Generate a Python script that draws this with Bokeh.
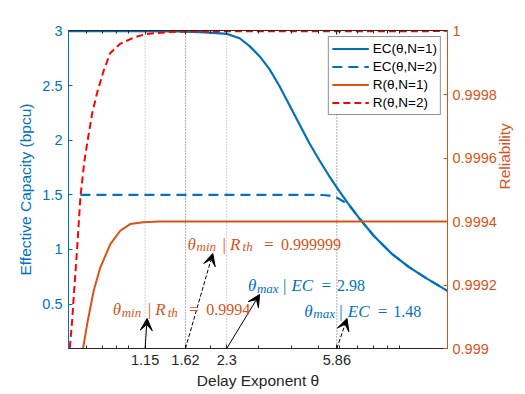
import math
from bokeh.plotting import figure
from bokeh.models import Range1d, LinearAxis, LogAxis, FixedTicker, Span, Arrow, VeeHead, Label
from bokeh.embed import file_html
from bokeh.resources import INLINE

# ---------------- data ----------------
theta_ec1 = [0.6, 1.0, 1.5, 1.83, 2.05, 2.3, 2.567, 2.793, 3.039, 3.307, 3.599, 3.916,
             4.261, 4.637, 5.046, 5.491, 5.975, 6.502, 7.075, 8.03, 9.35, 10.79, 12.46, 15.0]
ec1 = [3.0, 3.0, 2.998, 2.992, 2.985, 2.975, 2.935, 2.863, 2.771, 2.652, 2.497, 2.323,
       2.149, 1.975, 1.820, 1.673, 1.536, 1.408, 1.289, 1.124, 0.960, 0.841, 0.740, 0.621]

theta_ec2 = [0.664, 1.0, 2.0, 3.0, 4.0, 4.8, 5.2, 5.5, 5.86, 6.2, 6.502, 7.075, 8.03,
             9.35, 10.79, 12.46, 15.0]
ec2 = [1.5, 1.5, 1.5, 1.5, 1.5, 1.5, 1.499, 1.494, 1.475, 1.44, 1.408, 1.289, 1.124,
       0.960, 0.841, 0.740, 0.621]

theta_r1 = [0.679, 0.703, 0.743, 0.786, 0.856, 0.931, 1.013, 1.13, 1.3, 2.0, 15.0]
r1 = [0.999, 0.999077, 0.999182, 0.999255, 0.999329, 0.999371, 0.999392, 0.999398,
      0.9994, 0.9994, 0.9994]

theta_r2 = [0.6066, 0.618, 0.6286, 0.6458, 0.664, 0.6868, 0.7086, 0.733, 0.7647, 0.8085,
            0.8557, 0.9311, 1.0393, 1.16, 1.4205, 1.62, 15.0]
r2 = [0.999002, 0.999081, 0.999175, 0.999317, 0.999478, 0.999591, 0.999664, 0.999739,
      0.999805, 0.999875, 0.999931, 0.99996, 0.999979, 0.999991, 0.999997, 0.999999, 1.0]

x_ticks = [1.15, 1.62, 2.3, 5.86]
x_tick_labels = ["1.15", "1.62", "2.3", "5.86"]
x_minor_ticks = [0.7, 0.8, 0.9, 1, 2, 3, 4, 5, 6, 7, 8, 9, 10]
ec_ticks = [0.5, 1.0, 1.5, 2.0, 2.5, 3.0]
ec_tick_labels = ["0.5", "1", "1.5", "2", "2.5", "3"]
rel_ticks = [0.999, 0.9992, 0.9994, 0.9996, 0.9998, 1.0]
rel_tick_labels = ["0.999", "0.9992", "0.9994", "0.9996", "0.9998", "1"]

series_labels = ["EC(θ,N=1)", "EC(θ,N=2)", "R(θ,N=1)", "R(θ,N=2)"]

# annotation values
annot_values = ["0.9994", "0.999999", "2.98", "1.48"]

# ---------------- style ----------------
BLUE = "#0072BD"
ORANGE = "#D95319"
RED = "#FF0000"
DARK = "#262626"
SANS = "Liberation Sans"
SERIF = "Liberation Serif"

EC_MIN, EC_MAX = 0.093, 3.006
REL_MIN, REL_MAX = 0.999, 1.0000019

p = figure(width=524, height=392, x_axis_type="log",
           x_range=Range1d(0.6, 15.0), y_range=Range1d(EC_MIN, EC_MAX),
           output_backend="svg", toolbar_location=None,
           min_border_left=68, min_border_right=75, min_border_top=30, min_border_bottom=44)
p.xgrid.visible = False
p.ygrid.visible = False
p.outline_line_color = DARK
p.outline_line_width = 1
p.background_fill_color = "white"
p.border_fill_color = "white"
p.extra_y_ranges = {"rel": Range1d(REL_MIN, REL_MAX)}

# vertical dotted guide lines
for t, c in zip(x_ticks, ["#a0a0a0", "#606060", "#a0a0a0", "#606060"]):
    p.add_layout(Span(location=t, dimension="height", line_color=c,
                      line_dash="1 2", line_width=1, level="underlay"))

# curves
p.line(theta_ec1, ec1, line_color=BLUE, line_width=2.2, legend_label=series_labels[0])
p.line(theta_ec2, ec2, line_color=BLUE, line_width=2.2, line_dash="10 6",
       legend_label=series_labels[1])
p.line(theta_r1, r1, line_color=ORANGE, line_width=2, y_range_name="rel",
       legend_label=series_labels[2])
p.line(theta_r2, r2, line_color=RED, line_width=2, line_dash="7 4", y_range_name="rel",
       legend_label=series_labels[3])

# bottom axis
bottom = p.below[0]
bottom.ticker = FixedTicker(ticks=x_ticks, minor_ticks=x_minor_ticks)
bottom.major_label_overrides = dict(zip(x_ticks, x_tick_labels))
bottom.axis_label = "Delay Exponent θ"
bottom.axis_line_color = DARK
bottom.major_tick_line_color = DARK
bottom.minor_tick_line_color = DARK
bottom.major_tick_in = 4
bottom.major_tick_out = 0
bottom.minor_tick_in = 3
bottom.minor_tick_out = 0
bottom.major_label_standoff = 6
bottom.major_label_text_font = SANS
bottom.major_label_text_font_size = "14.5px"
bottom.major_label_text_color = DARK
bottom.axis_label_standoff = 4
bottom.axis_label_text_font = SANS
bottom.axis_label_text_font_size = "15.5px"
bottom.axis_label_text_font_style = "normal"
bottom.axis_label_text_color = DARK

# top axis (mirrored ticks only)
top = LogAxis(ticker=FixedTicker(ticks=x_ticks, minor_ticks=x_minor_ticks),
              major_label_overrides={t: "" for t in x_ticks},
              major_label_text_font_size="0px", major_label_standoff=0,
              axis_line_color=DARK, major_tick_line_color=DARK, minor_tick_line_color=DARK,
              major_tick_in=4, major_tick_out=0, minor_tick_in=3, minor_tick_out=0)
p.add_layout(top, "above")

# left axis
left = p.left[0]
left.ticker = FixedTicker(ticks=ec_ticks)
left.major_label_overrides = dict(zip(ec_ticks, ec_tick_labels))
left.axis_label = "Effective Capacity (bpcu)"

# right axis
right = LinearAxis(y_range_name="rel", ticker=FixedTicker(ticks=rel_ticks),
                   major_label_overrides=dict(zip(rel_ticks, rel_tick_labels)),
                   axis_label="Reliability")
p.add_layout(right, "right")

for ax, col in [(left, BLUE), (right, ORANGE)]:
    ax.axis_line_color = col
    ax.major_tick_line_color = col
    ax.minor_tick_line_color = None
    ax.major_tick_in = 4
    ax.major_tick_out = 0
    ax.minor_tick_in = 0
    ax.minor_tick_out = 0
    ax.major_label_standoff = 6 if ax is left else 5
    ax.major_label_text_font = SANS
    ax.major_label_text_font_size = "14.5px"
    ax.major_label_text_color = col
    ax.axis_label_standoff = 5
    ax.axis_label_text_font = SANS
    ax.axis_label_text_font_size = "15.5px"
    ax.axis_label_text_font_style = "normal"
    ax.axis_label_text_color = col

if "axis_label_orientation" in right.properties():
    right.axis_label_orientation = math.pi / 2

# legend
lg = p.legend[0]
lg.location = "top_right"
lg.margin = 6
lg.padding = 3
lg.spacing = 1
lg.label_height = 17
lg.glyph_height = 17
lg.glyph_width = 37
lg.label_standoff = 4
lg.label_text_font = SANS
lg.label_text_font_size = "13.5px"
lg.label_text_color = "black"
lg.border_line_color = DARK
lg.border_line_width = 1
lg.background_fill_color = "white"
lg.background_fill_alpha = 1.0

# arrows (start on the axis at the marked delay exponents)
arrow_tip_theta = [1.17, 2.043, 3.04, 6.39]
arrow_tip_ec = [0.368, 0.963, 0.588, 0.368]
arrow_dash = ["solid", "4 2", "solid", "4 2"]
for i in range(4):
    p.add_layout(Arrow(x_start=x_ticks[i], y_start=EC_MIN,
                       x_end=arrow_tip_theta[i], y_end=arrow_tip_ec[i],
                       line_color="black", line_width=1, line_dash=arrow_dash[i],
                       end=VeeHead(size=12, fill_color="black", line_color="black",
                                   line_width=1)))

# math-like annotations built from pieces
def math_label(x, y, pieces, color):
    for txt, italic, size, dx, dy in pieces:
        p.add_layout(Label(x=x, y=y, x_offset=dx, y_offset=dy, text=txt,
                           text_font=SERIF, text_font_style="italic" if italic else "normal",
                           text_font_size=f"{size}px", text_color=color,
                           text_align="left", text_baseline="alphabetic"))

def r_pieces(val):
    return [("θ", True, 17, 0, 0), ("min", True, 13, 9, -2.5),
            ("|", False, 17, 35, 0), ("R", True, 17, 42.5, 0), ("th", True, 13, 55, -2.5),
            ("=", False, 17, 76.5, 0), (val, False, 16, 93.5, 0)]

def ec_pieces(val):
    return [("θ", True, 17, 0, 0), ("max", True, 13, 9, -2.5),
            ("|", False, 17, 35, 0), ("EC", True, 17, 43.5, 0),
            ("=", False, 17, 73.5, 0), (val, False, 16, 89, 0)]

annot_anchor_theta = [0.873, 1.650, 2.753, 4.445]
annot_anchor_ec = [0.450, 1.050, 0.670, 0.4365]
math_label(annot_anchor_theta[0], annot_anchor_ec[0], r_pieces(annot_values[0]), ORANGE)
math_label(annot_anchor_theta[1], annot_anchor_ec[1], r_pieces(annot_values[1]), ORANGE)
math_label(annot_anchor_theta[2], annot_anchor_ec[2], ec_pieces(annot_values[2]), BLUE)
math_label(annot_anchor_theta[3], annot_anchor_ec[3], ec_pieces(annot_values[3]), BLUE)

open("out.html", "w").write(file_html(p, INLINE))
